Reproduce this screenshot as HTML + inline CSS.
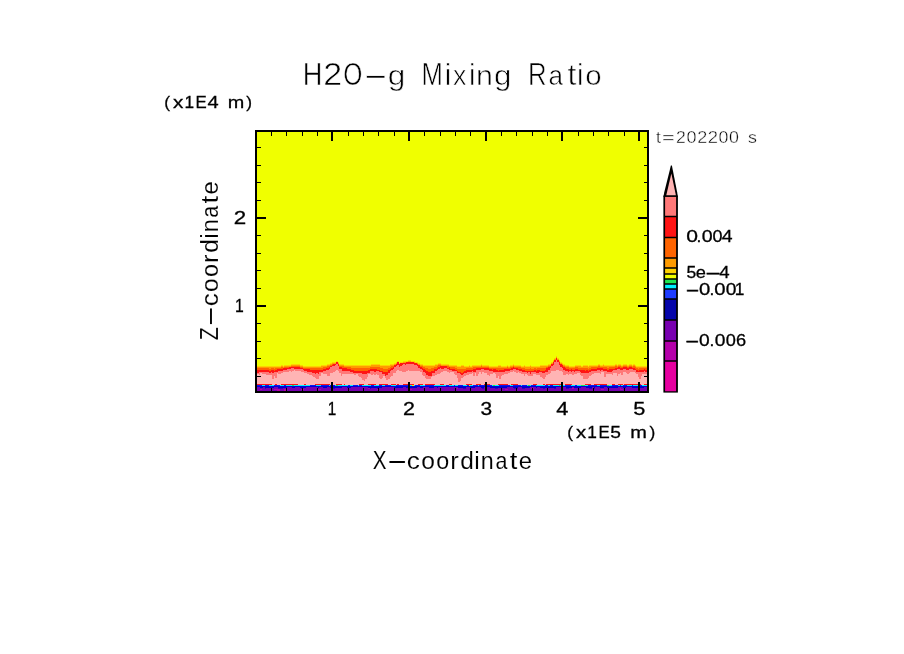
<!DOCTYPE html>
<html lang="en"><head><meta charset="utf-8"><title>H2O-g Mixing Ratio</title>
<style>html,body{margin:0;padding:0;background:#fff;overflow:hidden}body{width:904px;height:654px;position:relative}</style></head>
<body>
<svg width="904" height="654" viewBox="0 0 904 654" style="position:absolute;left:0;top:0">
<rect x="0" y="0" width="904" height="654" fill="#fff"/>
<g shape-rendering="crispEdges">
<rect x="256" y="131" width="392" height="261" fill="#f0ff00"/>
<path d="M257,385V366H281V365H283V366H284V365H291V364H300V365H303V366H321V365H327V364H330V363H332V362H336V361H338V362H339V364H344V365H371V364H380V365H390V364H394V363H396V362H397V361H399V363H400V362H403V361H408V360H411V361H415V362H418V363H420V364H423V365H435V364H438V363H441V364H449V365H457V366H461V365H464V366H469V365H470V366H472V365H481V364H482V365H489V366H498V365H501V366H507V365H508V366H510V365H513V364H514V365H521V366H524V365H525V366H530V365H531V366H540V365H548V364H551V362H553V360H554V358H556V356H557V358H559V360H560V362H562V363H563V364H565V365H569V366H575V365H581V366H583V365H588V366H589V365H598V364H600V365H603V364H604V365H615V364H617V365H618V364H621V365H623V364H627V365H629V364H632V365H633V364H635V365H636V366H647V385Z" fill="#ffd200"/>
<path d="M257,385V367H281V366H283V367H284V366H291V365H300V366H303V367H321V366H327V365H330V364H332V363H336V362H338V363H339V365H344V366H371V365H380V366H390V365H394V364H396V363H397V362H399V364H400V363H403V362H408V361H411V362H415V363H418V364H420V365H423V366H435V365H438V364H441V365H449V366H457V367H461V366H464V367H469V366H470V367H472V366H481V365H482V366H489V367H498V366H501V367H507V366H508V367H510V366H513V365H514V366H521V367H524V366H525V367H530V366H531V367H540V366H548V365H551V363H553V361H554V359H556V357H557V359H559V361H560V363H562V364H563V365H565V366H569V367H575V366H581V367H583V366H588V367H589V366H598V365H600V366H603V365H604V366H615V365H617V366H618V365H621V366H623V365H627V366H629V365H632V366H633V365H635V366H636V367H647V385Z" fill="#ff9b00"/>
<path d="M257,385V368H269V369H271V368H274V369H275V368H281V367H283V368H284V367H291V366H300V367H303V368H323V367H327V366H330V365H332V364H336V363H338V364H339V366H344V367H351V368H370V367H380V368H383V369H388V368H390V367H391V366H394V365H396V364H397V363H399V365H400V364H403V363H408V362H411V363H415V364H418V365H420V366H423V367H425V368H428V369H431V368H434V367H437V366H438V365H441V366H449V367H455V368H457V369H466V368H473V367H481V366H482V367H489V368H507V367H508V368H510V367H513V366H514V367H521V368H525V369H530V368H531V369H534V368H536V369H537V368H546V367H548V366H551V364H553V362H554V360H556V358H557V360H559V362H560V364H562V365H563V366H565V367H569V368H575V367H578V368H588V369H589V368H591V367H598V366H600V367H607V368H609V367H615V366H617V367H618V366H621V367H623V366H627V367H629V366H632V367H633V366H635V367H636V368H638V369H639V368H647V385Z" fill="#ff6400"/>
<path d="M257,385V370H269V371H271V370H274V371H275V370H277V369H283V368H289V367H300V368H303V369H310V370H323V369H326V368H329V367H330V366H332V365H333V364H336V362H338V364H339V367H342V368H347V369H351V370H354V371H368V370H370V369H377V370H380V371H383V372H388V370H390V369H391V368H393V367H394V365H396V364H397V362H399V364H400V363H406V362H414V363H417V364H418V365H420V367H422V368H423V369H425V370H426V371H428V372H431V371H434V369H437V368H438V367H440V366H447V368H449V367H450V369H455V370H457V371H458V372H461V373H463V372H464V371H466V370H473V369H476V368H489V369H492V370H493V369H496V370H498V371H499V370H504V369H511V368H513V367H514V368H518V369H522V370H525V371H534V370H536V371H537V370H540V371H545V370H546V368H548V367H550V366H551V364H553V362H554V360H556V358H557V360H559V362H560V364H562V365H563V367H565V368H566V369H569V370H571V369H572V370H575V369H578V370H585V371H586V370H588V371H589V370H591V369H597V368H603V369H607V370H609V369H615V368H618V367H620V368H623V367H627V368H629V367H632V368H635V369H636V370H638V371H639V370H644V369H645V370H647V385Z" fill="#ff1414"/>
<path d="M257,385V373H259V372H269V373H271V372H272V373H274V372H278V371H283V370H287V369H291V368H294V369H303V370H304V371H307V372H312V373H315V374H316V373H318V374H319V372H323V371H326V370H329V369H330V367H332V366H335V365H336V364H338V366H339V369H342V371H350V372H353V373H362V374H367V373H370V371H374V372H376V371H379V372H382V374H385V376H386V375H388V373H390V371H391V370H393V369H394V367H396V366H397V365H399V367H400V366H402V365H403V364H405V365H406V364H414V365H417V366H418V368H420V369H422V370H423V372H425V373H426V375H428V376H432V373H435V371H437V370H438V369H440V368H441V369H444V368H447V369H449V370H452V371H457V373H460V374H461V375H463V374H464V373H467V372H472V371H473V372H476V370H481V369H484V370H489V371H493V372H505V371H510V370H513V369H516V370H519V371H522V372H527V373H528V372H530V374H531V372H536V373H539V372H542V373H545V372H548V370H550V368H551V366H553V365H554V362H556V360H557V362H559V365H560V367H562V368H563V370H565V371H568V372H569V371H571V372H572V371H574V372H575V371H580V372H581V373H589V372H591V371H597V370H600V371H601V370H603V371H607V372H612V371H613V370H617V369H620V370H623V369H626V370H629V369H633V370H636V372H644V371H645V372H647V385Z" fill="#ff7878"/>
<path d="M257,385V374H259V375H260V373H262V374H266V375H272V379H274V376H275V378H277V373H278V374H281V373H283V372H289V371H291V372H292V371H294V370H295V371H301V372H304V373H307V374H309V375H312V376H313V377H315V378H316V379H319V376H321V373H323V374H327V376H330V373H333V372H335V371H336V370H338V371H339V373H341V376H342V374H354V375H356V374H358V376H359V377H361V378H362V380H364V381H365V379H367V377H368V374H371V375H373V374H374V375H376V374H377V375H379V378H380V379H382V378H383V376H385V378H386V380H388V379H390V377H391V376H393V373H396V371H397V370H399V371H402V372H406V371H408V370H409V371H420V372H422V375H423V376H425V378H426V379H431V377H432V376H435V375H437V374H440V373H441V372H443V371H447V372H449V373H450V372H454V374H455V375H457V378H458V382H460V381H461V378H463V377H464V376H466V375H469V374H472V373H473V376H475V373H476V376H478V374H479V372H481V374H482V372H484V373H487V375H489V376H490V374H493V373H495V374H496V378H498V376H499V379H501V376H502V375H504V374H508V373H510V372H513V371H514V372H516V373H518V372H519V373H521V374H524V376H525V374H527V375H528V376H533V374H536V375H540V377H542V378H543V379H545V377H546V375H548V374H550V373H551V371H556V370H559V371H562V372H563V375H566V374H568V375H569V374H572V375H574V374H577V373H580V375H581V376H583V379H588V378H589V376H591V375H592V374H594V373H600V374H601V372H604V377H606V374H612V375H613V373H617V376H618V374H620V373H621V375H623V372H626V373H627V374H629V373H630V372H635V373H636V374H638V377H639V379H641V376H642V374H647V385Z" fill="#ffb4b4"/>
<rect x="257" y="384" width="390" height="1" fill="#ffb4b4"/>
<rect x="257" y="385" width="390" height="1" fill="#0a14f0"/>
<rect x="257" y="386" width="390" height="1" fill="#0000dc"/>
<rect x="257" y="387" width="390" height="4" fill="#7800b0"/>
<path d="M257,384h15v1h-15zM275,384h2v1h-2zM281,384h17v1h-17zM304,384h2v1h-2zM315,384h15v1h-15zM336,384h6v1h-6zM344,384h1v1h-1zM359,384h5v1h-5zM368,384h8v1h-8zM379,384h9v1h-9zM391,384h5v1h-5zM397,384h2v1h-2zM403,384h11v1h-11zM418,384h5v1h-5zM425,384h10v1h-10zM440,384h4v1h-4zM449,384h3v1h-3zM466,384h6v1h-6zM476,384h5v1h-5zM484,384h6v1h-6zM498,384h10v1h-10zM511,384h7v1h-7zM533,384h4v1h-4zM543,384h2v1h-2zM546,384h16v1h-16zM565,384h7v1h-7zM585,384h6v1h-6zM594,384h13v1h-13zM612,384h3v1h-3zM618,384h5v1h-5zM624,384h17v1h-17zM644,384h3v1h-3z" fill="#ff1414"/>
<path d="M262,385h3v1h-3zM269,385h5v1h-5zM280,385h4v1h-4zM286,385h24v1h-24zM316,385h5v1h-5zM329,385h1v1h-1zM335,385h13v1h-13zM350,385h3v1h-3zM358,385h1v1h-1zM362,385h9v1h-9zM374,385h5v1h-5zM382,385h3v1h-3zM391,385h5v1h-5zM409,385h6v1h-6zM420,385h5v1h-5zM434,385h12v1h-12zM449,385h5v1h-5zM455,385h3v1h-3zM463,385h4v1h-4zM469,385h4v1h-4zM478,385h1v1h-1zM492,385h7v1h-7zM510,385h3v1h-3zM521,385h1v1h-1zM527,385h4v1h-4zM536,385h9v1h-9zM548,385h2v1h-2zM553,385h12v1h-12zM571,385h4v1h-4zM577,385h11v1h-11zM597,385h3v1h-3zM607,385h5v1h-5zM618,385h2v1h-2zM621,385h2v1h-2zM627,385h5v1h-5zM633,385h6v1h-6zM642,385h5v1h-5z" fill="#00f0ff"/>
<path d="M292,385h2v1h-2zM336,385h2v1h-2zM493,385h2v1h-2zM528,385h2v1h-2zM559,385h1v1h-1zM581,385h4v1h-4zM607,385h2v1h-2z" fill="#1ee650"/>
<path d="M412,385h2v1h-2zM469,385h1v1h-1z" fill="#ffe600"/>
<path d="M260,387h3v1h-3zM265,387h9v1h-9zM278,387h9v1h-9zM292,387h3v1h-3zM300,387h6v1h-6zM318,387h1v1h-1zM323,387h4v1h-4zM330,387h2v1h-2zM333,387h9v1h-9zM347,387h4v1h-4zM368,387h14v1h-14zM394,387h9v1h-9zM406,387h11v1h-11zM420,387h3v1h-3zM429,387h5v1h-5zM437,387h1v1h-1zM458,387h8v1h-8zM470,387h5v1h-5zM481,387h3v1h-3zM490,387h17v1h-17zM513,387h5v1h-5zM522,387h8v1h-8zM536,387h1v1h-1zM540,387h16v1h-16zM566,387h6v1h-6zM574,387h7v1h-7zM586,387h6v1h-6zM594,387h1v1h-1zM600,387h4v1h-4zM607,387h11v1h-11zM623,387h3v1h-3zM632,387h12v1h-12z" fill="#0000c8"/>
<path d="M265,388h1v1h-1zM278,388h5v1h-5zM301,388h2v1h-2zM333,388h2v1h-2zM368,388h3v1h-3zM377,388h2v1h-2zM463,388h3v1h-3zM482,388h2v1h-2zM495,388h3v1h-3zM514,388h4v1h-4zM522,388h3v1h-3zM543,388h2v1h-2zM554,388h2v1h-2zM566,388h3v1h-3zM589,388h3v1h-3zM594,388h1v1h-1z" fill="#3c00b4"/>
<path d="M260,389h2v1h-2zM274,389h6v1h-6zM284,389h3v1h-3zM301,389h3v1h-3zM318,389h3v1h-3zM377,389h2v1h-2zM409,389h3v1h-3zM505,389h3v1h-3zM601,389h3v1h-3zM620,389h3v1h-3z" fill="#b400aa"/>
<path d="M277,390h3v1h-3zM284,390h2v1h-2z" fill="#b400aa"/>
<path d="M368,388h2v1h-2zM457,388h1v1h-1zM531,388h3v1h-3zM572,388h2v1h-2zM620,388h1v1h-1z" fill="#b400aa"/>
<path d="M255,130h394v263h-394zM257,132v259h390v-259z" fill="#000" fill-rule="evenodd"/>
<path d="M271,132h1v4h-1zM271,388h1v3h-1zM286,132h1v4h-1zM286,388h1v3h-1zM302,132h1v4h-1zM302,388h1v3h-1zM317,132h1v4h-1zM317,388h1v3h-1zM331,132h2v9h-2zM331,382h2v9h-2zM348,132h1v4h-1zM348,388h1v3h-1zM363,132h1v4h-1zM363,388h1v3h-1zM378,132h1v4h-1zM378,388h1v3h-1zM394,132h1v4h-1zM394,388h1v3h-1zM408,132h2v9h-2zM408,382h2v9h-2zM424,132h1v4h-1zM424,388h1v3h-1zM440,132h1v4h-1zM440,388h1v3h-1zM455,132h1v4h-1zM455,388h1v3h-1zM470,132h1v4h-1zM470,388h1v3h-1zM485,132h2v9h-2zM485,382h2v9h-2zM501,132h1v4h-1zM501,388h1v3h-1zM516,132h1v4h-1zM516,388h1v3h-1zM532,132h1v4h-1zM532,388h1v3h-1zM547,132h1v4h-1zM547,388h1v3h-1zM561,132h2v9h-2zM561,382h2v9h-2zM578,132h1v4h-1zM578,388h1v3h-1zM593,132h1v4h-1zM593,388h1v3h-1zM608,132h1v4h-1zM608,388h1v3h-1zM624,132h1v4h-1zM624,388h1v3h-1zM638,132h2v9h-2zM638,382h2v9h-2zM257,376h4v1h-4zM644,376h3v1h-3zM257,358h4v1h-4zM644,358h3v1h-3zM257,341h4v1h-4zM644,341h3v1h-3zM257,323h4v1h-4zM644,323h3v1h-3zM257,305h9v2h-9zM638,305h9v2h-9zM257,288h4v1h-4zM644,288h3v1h-3zM257,270h4v1h-4zM644,270h3v1h-3zM257,253h4v1h-4zM644,253h3v1h-3zM257,235h4v1h-4zM644,235h3v1h-3zM257,217h9v2h-9zM638,217h9v2h-9zM257,200h4v1h-4zM644,200h3v1h-3zM257,182h4v1h-4zM644,182h3v1h-3zM257,165h4v1h-4zM644,165h3v1h-3zM257,147h4v1h-4zM644,147h3v1h-3z" fill="#000"/>
</g>
<g>
<rect x="663.4" y="195.6" width="14.5" height="197" fill="#000"/>
<rect x="665.1" y="196.75" width="11" height="19.0" fill="#ff7878"/>
<rect x="665.1" y="217.25" width="11" height="19.5" fill="#ff1414"/>
<rect x="665.1" y="238.25" width="11" height="19.0" fill="#ff6400"/>
<rect x="665.1" y="258.75" width="11" height="8.5" fill="#ff9b00"/>
<rect x="665.1" y="268.75" width="11" height="4.5" fill="#ffd200"/>
<rect x="665.1" y="274.75" width="11" height="3.5" fill="#f0ff00"/>
<rect x="665.1" y="279.75" width="11" height="3.5" fill="#1ee650"/>
<rect x="665.1" y="284.75" width="11" height="3.5" fill="#00f0ff"/>
<rect x="665.1" y="289.75" width="11" height="8.5" fill="#1e3cff"/>
<rect x="665.1" y="299.75" width="11" height="19.5" fill="#0505aa"/>
<rect x="665.1" y="320.75" width="11" height="19.5" fill="#7800b0"/>
<rect x="665.1" y="341.75" width="11" height="18.5" fill="#b400aa"/>
<rect x="665.1" y="361.75" width="11" height="29.5" fill="#e600a0"/>
<path d="M663.4,196.8 L664.2,192.5 L670.9,165.6 L671.9,165.6 L677.2,192.5 L677.9,196.8 Z" fill="#000"/>
<path d="M666.3,195.3 L671.35,173.5 L675.9,195.3 Z" fill="#ffb4b4"/>
</g>
<g font-family="Liberation Sans, sans-serif" fill="#000">
<text y="84.8" font-size="30" stroke="#fff" stroke-width="0.6"><tspan x="302.67" font-size="31.1" textLength="19.65" lengthAdjust="spacingAndGlyphs">H</tspan><tspan x="323.19" font-size="31.1" textLength="18.92" lengthAdjust="spacingAndGlyphs">2</tspan><tspan x="343.23" font-size="31.1" textLength="19.14" lengthAdjust="spacingAndGlyphs">O</tspan><tspan x="362.59" textLength="26.33" lengthAdjust="spacingAndGlyphs">-</tspan><tspan x="387.87" font-size="27.2" textLength="17.56" lengthAdjust="spacingAndGlyphs">g</tspan> <tspan x="421.49" font-size="31.1" textLength="21.42" lengthAdjust="spacingAndGlyphs">M</tspan><tspan x="444.76" font-size="29.2">i</tspan><tspan x="452.90" font-size="27.2" textLength="13.39" lengthAdjust="spacingAndGlyphs">x</tspan><tspan x="469.06" font-size="29.2">i</tspan><tspan x="475.98" font-size="27.2" textLength="16.89" lengthAdjust="spacingAndGlyphs">n</tspan><tspan x="493.98" font-size="27.2" textLength="17.44" lengthAdjust="spacingAndGlyphs">g</tspan> <tspan x="527.89" font-size="31.1" textLength="18.61" lengthAdjust="spacingAndGlyphs">R</tspan><tspan x="548.49" font-size="27.2" textLength="14.51" lengthAdjust="spacingAndGlyphs">a</tspan><tspan x="567.51" font-size="29.2" textLength="8.92" lengthAdjust="spacingAndGlyphs">t</tspan><tspan x="576.96" font-size="29.2">i</tspan><tspan x="585.16" font-size="27.2" textLength="16.37" lengthAdjust="spacingAndGlyphs">o</tspan></text>
<text y="108.4" font-size="17.3" stroke="#000" stroke-width="0.3"><tspan x="164.23">(</tspan><tspan x="173.07" textLength="10.36" lengthAdjust="spacingAndGlyphs">x</tspan><tspan x="184.45">1</tspan><tspan x="195.62" textLength="11.20" lengthAdjust="spacingAndGlyphs">E</tspan><tspan x="207.44" textLength="11.15" lengthAdjust="spacingAndGlyphs">4</tspan> <tspan x="227.68" textLength="16.53" lengthAdjust="spacingAndGlyphs">m</tspan><tspan x="246.31">)</tspan></text>
<text y="437.6" font-size="17.3" stroke="#000" stroke-width="0.3"><tspan x="567.18">(</tspan><tspan x="576.07" textLength="10.15" lengthAdjust="spacingAndGlyphs">x</tspan><tspan x="587.25">1</tspan><tspan x="598.62" textLength="11.20" lengthAdjust="spacingAndGlyphs">E</tspan><tspan x="610.23" textLength="10.67" lengthAdjust="spacingAndGlyphs">5</tspan> <tspan x="630.37" textLength="16.64" lengthAdjust="spacingAndGlyphs">m</tspan><tspan x="649.51">)</tspan></text>
<text y="143" font-size="17.2" stroke="#fff" stroke-width="0.4"><tspan x="655.71" textLength="5.33" lengthAdjust="spacingAndGlyphs">t</tspan><tspan x="662.13" textLength="12.74" lengthAdjust="spacingAndGlyphs">=</tspan><tspan x="676.02" textLength="9.77" lengthAdjust="spacingAndGlyphs">2</tspan><tspan x="686.50" textLength="10.01" lengthAdjust="spacingAndGlyphs">0</tspan><tspan x="697.19" textLength="10.01" lengthAdjust="spacingAndGlyphs">2</tspan><tspan x="707.67" textLength="10.25" lengthAdjust="spacingAndGlyphs">2</tspan><tspan x="718.61" textLength="9.89" lengthAdjust="spacingAndGlyphs">0</tspan><tspan x="729.11" textLength="9.89" lengthAdjust="spacingAndGlyphs">0</tspan> <tspan x="747.90" textLength="8.94" lengthAdjust="spacingAndGlyphs">s</tspan></text>
<text y="468.8" font-size="25" stroke="#fff" stroke-width="0.1"><tspan x="372.74" font-size="25.8" textLength="13.80" lengthAdjust="spacingAndGlyphs">X</tspan><tspan x="386.21" textLength="21.69" lengthAdjust="spacingAndGlyphs">-</tspan><tspan x="406.89" font-size="23.6" textLength="13.10" lengthAdjust="spacingAndGlyphs">c</tspan><tspan x="421.27" font-size="23.6" textLength="13.66" lengthAdjust="spacingAndGlyphs">o</tspan><tspan x="436.22" font-size="23.6" textLength="12.96" lengthAdjust="spacingAndGlyphs">o</tspan><tspan x="450.30" font-size="23.6" textLength="8.52" lengthAdjust="spacingAndGlyphs">r</tspan><tspan x="460.37" font-size="24.7" textLength="13.60" lengthAdjust="spacingAndGlyphs">d</tspan><tspan x="474.36" font-size="24.7">i</tspan><tspan x="480.85" font-size="23.6" textLength="12.96" lengthAdjust="spacingAndGlyphs">n</tspan><tspan x="495.39" font-size="23.6" textLength="11.91" lengthAdjust="spacingAndGlyphs">a</tspan><tspan x="509.79" font-size="24.7" textLength="7.62" lengthAdjust="spacingAndGlyphs">t</tspan><tspan x="518.69" font-size="23.6" textLength="13.27" lengthAdjust="spacingAndGlyphs">e</tspan></text>
<g transform="translate(218,339.7) rotate(-90)"><text y="0" font-size="25" stroke="#fff" stroke-width="0.1"><tspan x="-0.58" font-size="25.8" textLength="13.05" lengthAdjust="spacingAndGlyphs">Z</tspan><tspan x="12.71" textLength="21.69" lengthAdjust="spacingAndGlyphs">-</tspan><tspan x="33.39" font-size="23.6" textLength="13.10" lengthAdjust="spacingAndGlyphs">c</tspan><tspan x="47.77" font-size="23.6" textLength="13.66" lengthAdjust="spacingAndGlyphs">o</tspan><tspan x="62.72" font-size="23.6" textLength="12.96" lengthAdjust="spacingAndGlyphs">o</tspan><tspan x="76.80" font-size="23.6" textLength="8.52" lengthAdjust="spacingAndGlyphs">r</tspan><tspan x="86.87" font-size="24.7" textLength="13.60" lengthAdjust="spacingAndGlyphs">d</tspan><tspan x="100.86" font-size="24.7">i</tspan><tspan x="107.35" font-size="23.6" textLength="12.96" lengthAdjust="spacingAndGlyphs">n</tspan><tspan x="121.89" font-size="23.6" textLength="11.91" lengthAdjust="spacingAndGlyphs">a</tspan><tspan x="136.29" font-size="24.7" textLength="7.62" lengthAdjust="spacingAndGlyphs">t</tspan><tspan x="145.19" font-size="23.6" textLength="13.27" lengthAdjust="spacingAndGlyphs">e</tspan></text></g>
<text y="414.8" font-size="18.6" stroke="#000" stroke-width="0.3"><tspan x="327.83" textLength="8.51" lengthAdjust="spacingAndGlyphs">1</tspan></text>
<text y="414.8" font-size="18.6" stroke="#000" stroke-width="0.3"><tspan x="403.12" textLength="11.96" lengthAdjust="spacingAndGlyphs">2</tspan></text>
<text y="414.8" font-size="18.6" stroke="#000" stroke-width="0.3"><tspan x="480.50" textLength="11.61" lengthAdjust="spacingAndGlyphs">3</tspan></text>
<text y="414.8" font-size="18.6" stroke="#000" stroke-width="0.3"><tspan x="556.30" textLength="12.14" lengthAdjust="spacingAndGlyphs">4</tspan></text>
<text y="414.8" font-size="18.6" stroke="#000" stroke-width="0.3"><tspan x="633.23" textLength="12.08" lengthAdjust="spacingAndGlyphs">5</tspan></text>
<text y="311.6" font-size="18.8" stroke="#000" stroke-width="0.3"><tspan x="235.00" textLength="8.77" lengthAdjust="spacingAndGlyphs">1</tspan></text>
<text y="224" font-size="18.8" stroke="#000" stroke-width="0.3"><tspan x="233.87" textLength="12.45" lengthAdjust="spacingAndGlyphs">2</tspan></text>
<text y="242.2" font-size="17.3" stroke="#000" stroke-width="0.3"><tspan x="686.27" textLength="11.75" lengthAdjust="spacingAndGlyphs">0</tspan><tspan x="696.60">.</tspan><tspan x="701.73" textLength="10.94" lengthAdjust="spacingAndGlyphs">0</tspan><tspan x="712.40" textLength="10.01" lengthAdjust="spacingAndGlyphs">0</tspan><tspan x="721.85" textLength="10.82" lengthAdjust="spacingAndGlyphs">4</tspan></text>
<text y="278.3" font-size="17.3" stroke="#000" stroke-width="0.3"><tspan x="686.40" textLength="9.74" lengthAdjust="spacingAndGlyphs">5</tspan><tspan x="695.82" textLength="10.19" lengthAdjust="spacingAndGlyphs">e</tspan><tspan x="704.78" textLength="16.64" lengthAdjust="spacingAndGlyphs">-</tspan><tspan x="719.17" textLength="10.37" lengthAdjust="spacingAndGlyphs">4</tspan></text>
<text y="294.5" font-size="17.3" stroke="#000" stroke-width="0.3"><tspan x="685.15" textLength="14.59" lengthAdjust="spacingAndGlyphs">-</tspan><tspan x="698.91" textLength="11.29" lengthAdjust="spacingAndGlyphs">0</tspan><tspan x="709.60">.</tspan><tspan x="714.21" textLength="11.29" lengthAdjust="spacingAndGlyphs">0</tspan><tspan x="725.85" textLength="10.70" lengthAdjust="spacingAndGlyphs">0</tspan><tspan x="734.85">1</tspan></text>
<text y="345.9" font-size="17.3" stroke="#000" stroke-width="0.3"><tspan x="684.80" textLength="15.00" lengthAdjust="spacingAndGlyphs">-</tspan><tspan x="698.95" textLength="10.70" lengthAdjust="spacingAndGlyphs">0</tspan><tspan x="709.40">.</tspan><tspan x="714.65" textLength="10.70" lengthAdjust="spacingAndGlyphs">0</tspan><tspan x="725.89" textLength="10.12" lengthAdjust="spacingAndGlyphs">0</tspan><tspan x="735.98" textLength="10.12" lengthAdjust="spacingAndGlyphs">6</tspan></text>
</g>
</svg>
</body></html>
